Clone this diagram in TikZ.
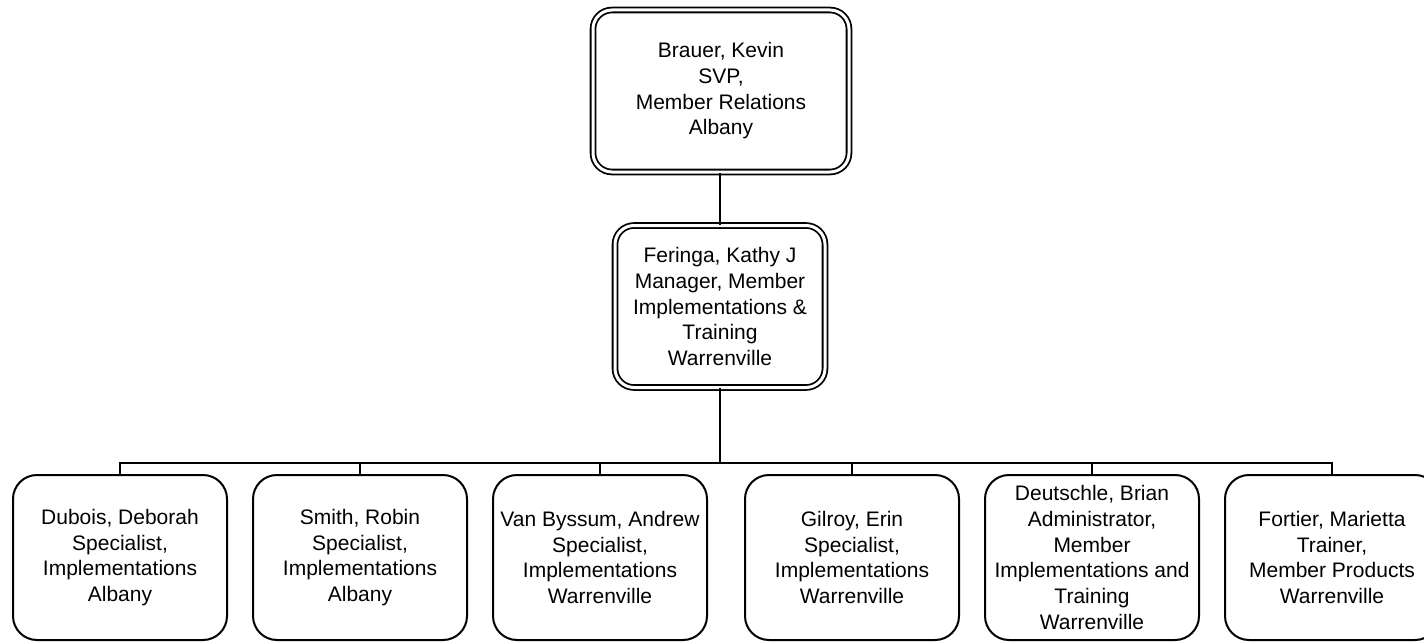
\documentclass[tikz,border=0pt]{standalone}
\usepackage{fontspec}
\setmainfont{Liberation Sans}
\begin{document}
\begin{tikzpicture}[x=1pt,y=-1pt,
  txt/.style={align=center,font=\fontsize{21}{25.7}\selectfont,inner sep=0pt},
  boss/.style={txt,draw=black,double=white,double distance=3pt,line width=1.8pt,
    rounded corners=19pt},
  staff/.style={txt,draw=black,line width=2pt,rounded corners=24pt,
    minimum width=214pt,minimum height=165pt},
  link/.style={draw=black,line width=2pt}]
\clip (0,0) rectangle (1424,642);
\fill[white] (0,0) rectangle (1424,642);
\node[boss,minimum width=256pt,minimum height=162pt] (brauer) at (721,91)
  {Brauer, Kevin\\SVP,\\Member Relations\\Albany};
\node[boss,minimum width=210pt,minimum height=162pt] (feringa) at (720,306.5)
  {Feringa, Kathy J\\Manager, Member\\Implementations \&\\Training\\Warrenville};
\node[staff] (dubois) at (120,557.5) {Dubois, Deborah\\Specialist,\\Implementations\\Albany};
\node[staff] (smith) at (360,557.5) {Smith, Robin\\Specialist,\\Implementations\\Albany};
\node[staff] (vanbyssum) at (600,557.5) {Van Byssum, Andrew\\Specialist,\\Implementations\\Warrenville};
\node[staff] (gilroy) at (852,557.5) {Gilroy, Erin\\Specialist,\\Implementations\\Warrenville};
\node[staff] (deutschle) at (1092,557.5) {Deutschle, Brian\\Administrator,\\Member\\Implementations and\\Training\\Warrenville};
\node[staff] (fortier) at (1332,557.5) {Fortier, Marietta\\Trainer,\\Member Products\\Warrenville};
\coordinate (busL) at (120,463);
\coordinate (busR) at (1332,463);
\draw[link] (feringa.north |- brauer.south) -- (feringa.north);
\draw[link] (feringa.south) -- (feringa.south |- busL);
\draw[link,line cap=rect] (busL) -- (busR);
\foreach \n in {dubois,smith,vanbyssum,gilroy,deutschle,fortier}
  \draw[link] (\n.north) -- (\n.north |- busL);
\end{tikzpicture}
\end{document}
